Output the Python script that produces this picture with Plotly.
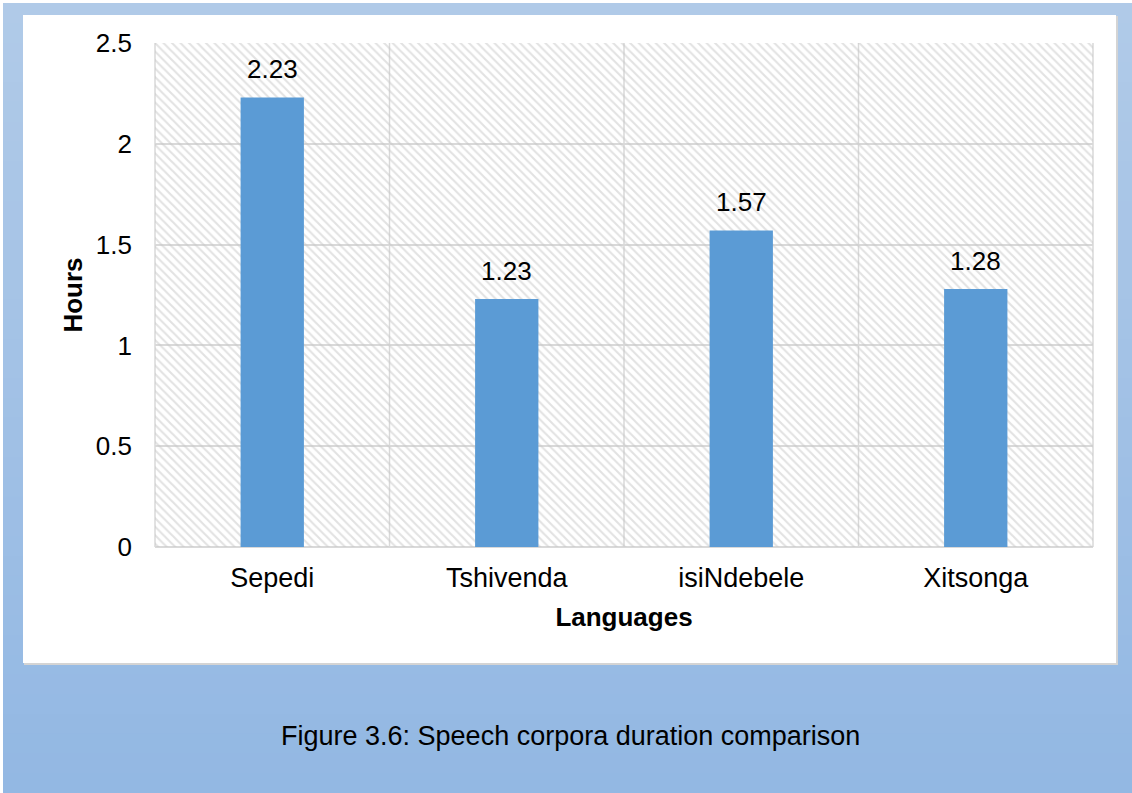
import plotly.graph_objects as go

# Speech corpus durations per language
languages = ["Sepedi", "Tshivenda", "isiNdebele", "Xitsonga"]
hours = [2.23, 1.23, 1.57, 1.28]
y_ticks = [0, 0.5, 1, 1.5, 2, 2.5]
y_tick_labels = ["0", "0.5", "1", "1.5", "2", "2.5"]
caption = "Figure 3.6: Speech corpora duration comparison"

W, H = 1132, 793
L, R, T, B = 155, 39, 43, 246
pw, ph = W - L - R, H - T - B


def px_x(p):
    return (p - L) / pw


def px_y(p):
    return (H - B - p) / ph


FONT = "Liberation Sans, Arial, sans-serif"
FS = 26
BAR_COLOR = "#5b9bd5"
GRID = "#d9d9d9"

x_pos = list(range(len(languages)))
x_lo, x_hi = -0.5, len(languages) - 0.5
y_lo, y_hi = y_ticks[0], y_ticks[-1]

fig = go.Figure()

# hatched plot background as a full-span bar drawn first (transparent between strokes)
fig.add_trace(go.Bar(
    x=[(x_lo + x_hi) / 2], y=[y_hi - y_lo], base=[y_lo],
    width=[x_hi - x_lo],
    marker=dict(color="rgba(0,0,0,0)", line=dict(width=0),
                pattern=dict(shape="\\", fgcolor="#c6c6c6", bgcolor="rgba(0,0,0,0)",
                             size=6, solidity=0.35)),
    hoverinfo="skip", showlegend=False,
))

fig.add_trace(go.Bar(
    x=x_pos, y=hours,
    marker=dict(color=BAR_COLOR, line=dict(width=0)),
    width=0.27,
    showlegend=False,
))

annotations = [dict(
    x=xp, y=v, xref="x", yref="y", text=f"{v:.2f}",
    xanchor="center", yanchor="bottom", yshift=11, showarrow=False,
    font=dict(family=FONT, size=FS, color="#000000"),
) for xp, v in zip(x_pos, hours)]
annotations.append(dict(
    text=caption, xref="paper", yref="paper",
    x=px_x(570), y=px_y(736), xanchor="center", yanchor="middle",
    showarrow=False, font=dict(family=FONT, size=27, color="#000000"),
))

shapes = []
# blue gradient backdrop
n_bands = 40
top_rgb = (176, 202, 232)
bot_rgb = (147, 184, 227)
y_top, y_bot = 3, H
for i in range(n_bands):
    f = i / (n_bands - 1)
    c = tuple(round(top_rgb[k] + (bot_rgb[k] - top_rgb[k]) * f) for k in range(3))
    y0 = y_top + (y_bot - y_top) * i / n_bands
    y1 = y_top + (y_bot - y_top) * (i + 1) / n_bands + 1
    shapes.append(dict(type="rect", xref="paper", yref="paper", layer="below",
                       x0=px_x(3), x1=px_x(W + 2), y0=px_y(y1), y1=px_y(y0),
                       line=dict(width=0), fillcolor=f"rgb{c}"))
# white chart card with a soft edge
shapes.append(dict(type="rect", xref="paper", yref="paper", layer="below",
                   x0=px_x(24), x1=px_x(1118), y0=px_y(665), y1=px_y(16),
                   line=dict(width=0), fillcolor="#d4d4d4"))
shapes.append(dict(type="rect", xref="paper", yref="paper", layer="below",
                   x0=px_x(23), x1=px_x(1116), y0=px_y(663), y1=px_y(15),
                   line=dict(width=0), fillcolor="#ffffff"))
# vertical category separators
for k in range(len(languages) + 1):
    shapes.append(dict(type="line", xref="paper", yref="paper", layer="below",
                       x0=k / len(languages), x1=k / len(languages), y0=0, y1=1,
                       line=dict(color=GRID, width=1.5)))

fig.update_layout(
    width=W, height=H,
    margin=dict(l=L, r=R, t=T, b=B, pad=0),
    paper_bgcolor="#ffffff",
    plot_bgcolor="rgba(0,0,0,0)",
    barmode="overlay",
    shapes=shapes,
    annotations=annotations,
    font=dict(family=FONT, color="#000000"),
    xaxis=dict(
        range=[x_lo, x_hi],
        tickvals=x_pos, ticktext=languages,
        showgrid=False, zeroline=False, showline=False,
        ticks="", tickfont=dict(size=27),
        ticklabelstandoff=12,
        title=dict(text="<b>Languages</b>", font=dict(size=FS), standoff=15),
    ),
    yaxis=dict(
        range=[y_lo, y_hi],
        tickvals=y_ticks, ticktext=y_tick_labels,
        showgrid=True, gridcolor=GRID, gridwidth=1.5,
        zeroline=True, zerolinecolor=GRID, zerolinewidth=1.5,
        showline=False, ticks="", tickfont=dict(size=FS),
        ticklabelstandoff=22,
        title=dict(text="<b>Hours</b>", font=dict(size=FS), standoff=5),
    ),
)

fig.write_html("out.html")
